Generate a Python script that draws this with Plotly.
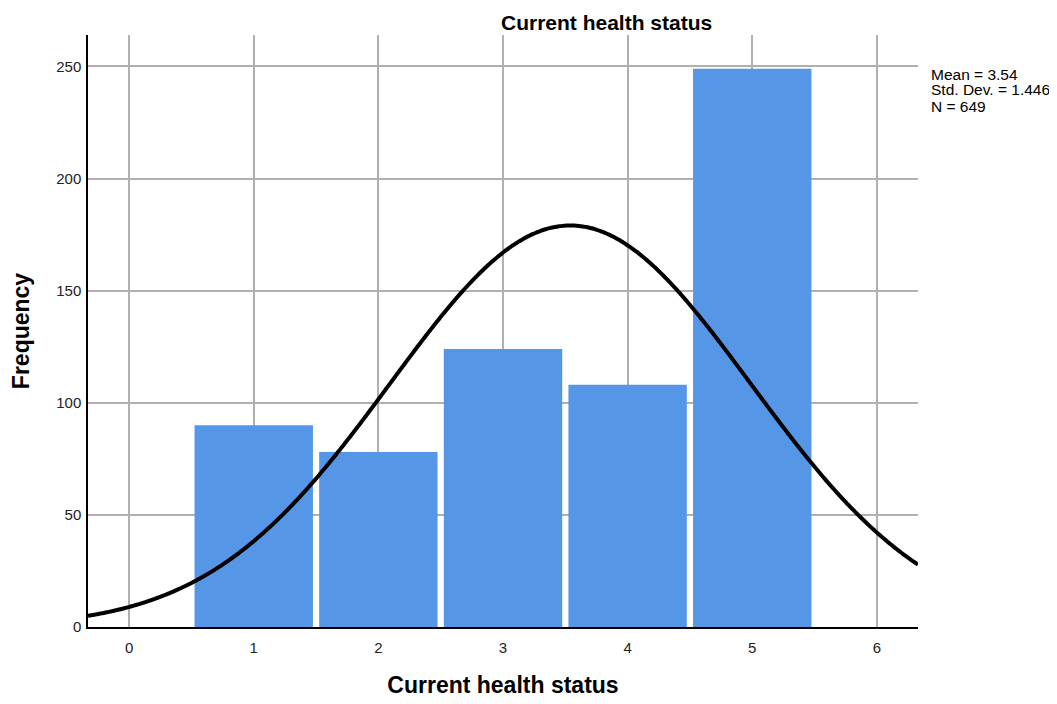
import numpy as np
import plotly.graph_objects as go

categories = [1, 2, 3, 4, 5]
frequencies = [90, 78, 124, 108, 249]
stat_mean = 3.54
stat_sd = 1.446
stat_n = 649
x_ticks = [0, 1, 2, 3, 4, 5, 6]
y_ticks = [0, 50, 100, 150, 200, 250]
stat_lines = [f"Mean = {stat_mean}", f"Std. Dev. = {stat_sd}", f"N = {stat_n}"]

x_lo, x_hi = -0.33, 6.33
xs = np.linspace(x_lo, x_hi, 400)
ys = stat_n * 1.0 / (stat_sd * np.sqrt(2 * np.pi)) * np.exp(-0.5 * ((xs - stat_mean) / stat_sd) ** 2)

W, H = 1049, 696
L, R, T, B = 80, 139, 27, 77
pw, ph = W - L - R, H - T - B

fig = go.Figure()
fig.add_trace(go.Bar(x=categories, y=frequencies, width=0.95,
                     marker=dict(color="#5596E6", line=dict(width=0)), showlegend=False))
fig.add_trace(go.Scatter(x=xs, y=ys, mode="lines",
                         line=dict(color="black", width=4, simplify=False, shape="spline"),
                         showlegend=False))

fig.update_layout(
    width=W, height=H,
    margin=dict(l=L, r=R, t=T, b=B, autoexpand=False),
    plot_bgcolor="white", paper_bgcolor="white",
    font=dict(family="Arial, Liberation Sans, sans-serif", size=15, color="#222"),
    xaxis=dict(range=[x_lo, x_hi], tickvals=x_ticks, showgrid=True, gridcolor="#b0b0b0",
               gridwidth=1.5, showline=True, linecolor="black", linewidth=1.5,
               zeroline=False, ticks="outside", ticklen=6, tickcolor="rgba(0,0,0,0)",
               title=dict(text="<b>Current health status</b>", font=dict(size=23, color="black"), standoff=22)),
    yaxis=dict(range=[0, 264], tickvals=y_ticks, showgrid=True, gridcolor="#b0b0b0",
               gridwidth=1.5, showline=True, linecolor="black", linewidth=1.5,
               zeroline=False, ticks="outside", ticklen=2, tickcolor="rgba(0,0,0,0)",
               title=dict(text="<b>Frequency</b>", font=dict(size=23, color="black"), standoff=26)),
    bargap=0.05,
)
# chart title
fig.add_annotation(text="<b>Current health status</b>", xref="paper", yref="paper",
                   x=(606 - 8 - L) / pw, y=(627 - 22) / ph, xanchor="center", yanchor="middle",
                   showarrow=False, borderpad=0, font=dict(size=21, color="black"))
for i, line in enumerate(stat_lines):
    fig.add_annotation(text=line, xref="paper", yref="paper",
                       x=(929 - 8 - L) / pw, y=(627 - (74 + 16 * i)) / ph,
                       xanchor="left", yanchor="middle", align="left", showarrow=False,
                       font=dict(size=15.5, color="black"))
fig.write_html("out.html")
